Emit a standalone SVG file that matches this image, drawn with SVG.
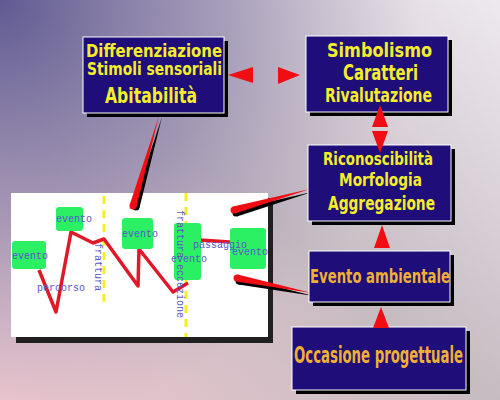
<svg xmlns="http://www.w3.org/2000/svg" width="500" height="400" viewBox="0 0 500 400">
<defs>
<linearGradient id="bg" x1="1" y1="0" x2="0" y2="1">
<stop offset="0" stop-color="#eee8ef"/>
<stop offset="0.5" stop-color="#c6bcc2"/>
<stop offset="1" stop-color="#ecc6ce"/>
</linearGradient>
<radialGradient id="tl" cx="0" cy="0" r="420" gradientUnits="userSpaceOnUse">
<stop offset="0" stop-color="#5f5a92" stop-opacity="1"/>
<stop offset="0.55" stop-color="#8a80aa" stop-opacity="0.6"/>
<stop offset="1" stop-color="#a89cb8" stop-opacity="0"/>
</radialGradient>
<style>
.box{fill:#1f0d7a;stroke:#ffffff;stroke-width:1}
.sh{fill:#000000}
.t{font-family:"DejaVu Sans Condensed","Liberation Sans Narrow","Liberation Sans",sans-serif;font-weight:bold;fill:#f4ee2a}
.o{font-family:"DejaVu Sans Condensed","Liberation Sans Narrow","Liberation Sans",sans-serif;font-weight:bold;fill:#eeb034}
.g{fill:#2cf064}
.m{font-family:"Liberation Mono","DejaVu Sans Mono",monospace;font-size:10px;fill:#5a56c8}
.red{fill:#f00e14}
.dash{stroke:#f4f020;stroke-width:3;stroke-dasharray:8 6;fill:none}
</style>
</defs>
<rect width="500" height="400" fill="url(#bg)"/>
<rect width="500" height="400" fill="url(#tl)"/>

<g id="scene">
<rect x="16" y="198" width="257" height="145" fill="#202020"/>
<rect x="11" y="193" width="257" height="144" fill="#ffffff"/>
<line class="dash" x1="104" y1="196" x2="104" y2="305"/>
<line class="dash" x1="186" y1="193" x2="186" y2="337"/>
<polyline points="39,270 56,312 71,232 93,243 104,239 138,286 139,249 173,292 188,283" fill="none" stroke="#e01828" stroke-width="3.5" stroke-linejoin="round"/>
<line x1="200" y1="240" x2="230" y2="242" stroke="#e01828" stroke-width="3.5"/>
<rect class="g" x="12" y="241" width="34" height="28" rx="3"/>
<rect class="g" x="56" y="207" width="27" height="24" rx="3"/>
<rect class="g" x="122" y="218" width="31" height="31" rx="3"/>
<rect class="g" x="174" y="223" width="27" height="57" rx="3"/>
<rect class="g" x="230" y="228" width="36" height="41" rx="3"/>
<text class="m" x="12" y="259">evento</text>
<text class="m" x="56" y="222">evento</text>
<text class="m" x="122" y="237">evento</text>
<text class="m" x="171" y="262">evento</text>
<text class="m" x="232" y="255">evento</text>
<text class="m" x="193" y="248">passaggio</text>
<text class="m" x="37" y="291">percorso</text>
<text class="m" x="95" y="243" transform="rotate(90 95 243)">frattura</text>
<text class="m" x="177" y="210" transform="rotate(90 177 210)">frattura eccezione</text>
</g>

<g id="connectors">
<g fill="#000000">
<polygon points="162,117 139.4,208 132.6,206"/>
<circle cx="136" cy="207" r="3.5"/>
<polygon points="312,192 236.9,216.4 235.1,209.6"/>
<circle cx="236" cy="213" r="3.5"/>
<polygon points="314,296 238.3,284.4 239.7,277.6"/>
<circle cx="239" cy="281" r="3.5"/>
</g>
<g class="red">
<polygon points="159,116 136.4,207 129.6,205"/>
<circle cx="133" cy="206" r="3.5"/>
<polygon points="310,189 234.9,213.4 233.1,206.6"/>
<circle cx="234" cy="210" r="3.5"/>
<polygon points="312,293 236.3,281.4 237.7,274.6"/>
<circle cx="237" cy="278" r="3.5"/>
</g>
</g>

<g id="n-differenziazione">
<rect class="sh" x="87" y="41" width="141" height="76"/>
<rect class="box" x="83" y="37" width="141" height="76"/>
<text class="t" x="86" y="57" font-size="18" textLength="136" lengthAdjust="spacingAndGlyphs">Differenziazione</text>
<text class="t" x="87" y="75" font-size="18" textLength="135" lengthAdjust="spacingAndGlyphs">Stimoli sensoriali</text>
<text class="t" x="105" y="103" font-size="22" textLength="92" lengthAdjust="spacingAndGlyphs">Abitabilità</text>
</g>

<g id="n-simbolismo">
<rect class="sh" x="310" y="40" width="142" height="76"/>
<rect class="box" x="306" y="36" width="142" height="76"/>
<text class="t" x="327" y="57" font-size="20" textLength="105" lengthAdjust="spacingAndGlyphs">Simbolismo</text>
<text class="t" x="343" y="80" font-size="21" textLength="75" lengthAdjust="spacingAndGlyphs">Caratteri</text>
<text class="t" x="325" y="102" font-size="20" textLength="107" lengthAdjust="spacingAndGlyphs">Rivalutazione</text>
</g>

<g id="n-riconoscibilita">
<rect class="sh" x="312" y="149" width="143" height="76"/>
<rect class="box" x="308" y="145" width="143" height="76"/>
<text class="t" x="323" y="165" font-size="18" textLength="110" lengthAdjust="spacingAndGlyphs">Riconoscibilità</text>
<text class="t" x="339" y="186" font-size="18" textLength="83" lengthAdjust="spacingAndGlyphs">Morfologia</text>
<text class="t" x="328" y="210" font-size="20" textLength="107" lengthAdjust="spacingAndGlyphs">Aggregazione</text>
</g>

<g id="n-evento-ambientale">
<rect class="sh" x="313" y="255" width="141" height="51"/>
<rect class="box" x="309" y="251" width="141" height="51"/>
<text class="o" x="310" y="283" font-size="20" textLength="140" lengthAdjust="spacingAndGlyphs">Evento ambientale</text>
</g>

<g id="n-occasione">
<rect class="sh" x="296" y="331" width="174" height="63"/>
<rect class="box" x="292" y="327" width="174" height="63"/>
<text class="o" x="294" y="363" font-size="23" textLength="169" lengthAdjust="spacingAndGlyphs">Occasione progettuale</text>
</g>

<g id="arrowheads" class="red">
<polygon points="228,75 253,67 253,83"/>
<polygon points="300,75 278,67 278,84"/>
<polygon points="380,105 372,127 388,127"/>
<polygon points="380,153 372,131 388,131"/>
<polygon points="382,225 374,248 390,248"/>
<polygon points="381,307 373,328 389,328"/>
</g>
</svg>
